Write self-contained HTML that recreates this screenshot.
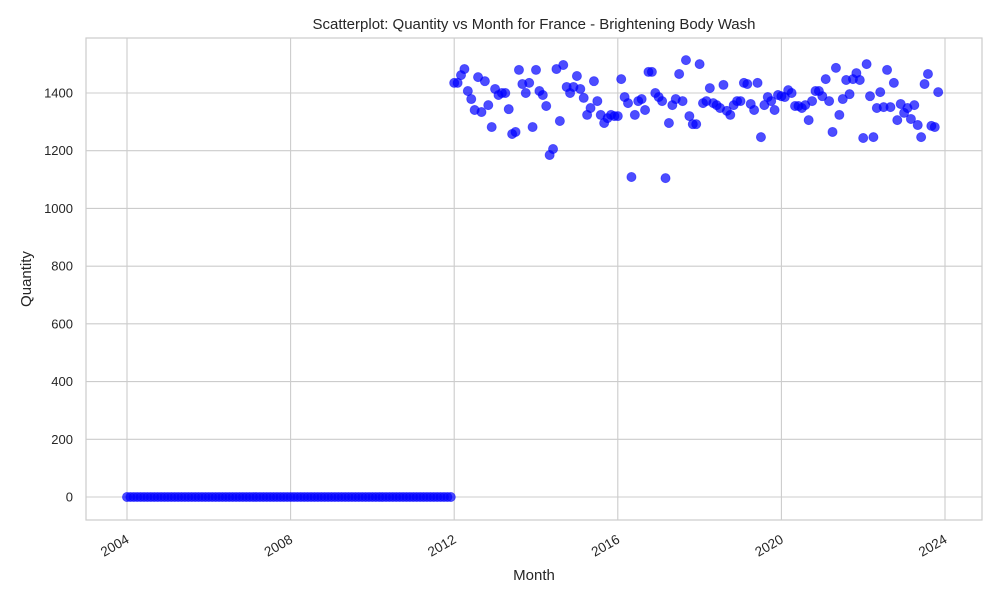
<!DOCTYPE html>
<html><head><meta charset="utf-8"><style>
body{margin:0;background:#fff;font-family:"Liberation Sans",sans-serif;}
svg text{font-family:"Liberation Sans",sans-serif;fill:#262626;}
</style></head><body>
<svg id="chart" width="1000" height="600">
<rect x="86" y="38" width="896" height="482" fill="#fff" stroke="#ccc" stroke-width="1.2"/>
<g id="grid"></g><g id="pts"></g><g id="ticks"></g>
<text x="534" y="29" text-anchor="middle" font-size="15">Scatterplot: Quantity vs Month for France - Brightening Body Wash</text>
<text x="534" y="580" text-anchor="middle" font-size="15">Month</text>
<text x="31" y="279" text-anchor="middle" font-size="15" transform="rotate(-90 31 279)">Quantity</text>
</svg>
<script>
const startYear = 2004;
const zeroMonths = 96;
const quantities = [1435,1435,1462,1483,1407,1379,1341,1455,1334,1441,1358,1282,1414,1393,1400,1400,1344,1258,1265,1480,1431,1400,1435,1282,1480,1407,1393,1355,1185,1206,1483,1303,1497,1421,1400,1421,1459,1414,1383,1324,1348,1441,1372,1324,1296,1313,1324,1320,1320,1448,1386,1365,1109,1324,1372,1379,1341,1473,1473,1400,1386,1372,1105,1296,1358,1379,1466,1372,1514,1320,1292,1292,1500,1365,1372,1417,1365,1358,1348,1428,1338,1324,1358,1372,1372,1435,1431,1362,1341,1435,1247,1358,1386,1372,1341,1393,1389,1386,1410,1400,1355,1355,1348,1358,1306,1372,1407,1407,1389,1448,1372,1265,1487,1324,1379,1445,1396,1448,1469,1445,1244,1500,1389,1247,1348,1403,1351,1480,1351,1435,1306,1362,1331,1348,1310,1358,1289,1247,1431,1466,1286,1282,1403];
const yTicks = [0,200,400,600,800,1000,1200,1400];
const xTickYears = [2004,2008,2012,2016,2020,2024];
const X = t => 127 + (t - 2004) * (945 - 127) / 20;
const Y = v => 497 - v * (497 - 93) / 1400;
const ns = "http://www.w3.org/2000/svg";
const grid = document.getElementById('grid'), ticks = document.getElementById('ticks'), pts = document.getElementById('pts');
function mk(tag, attrs, parent){const e=document.createElementNS(ns,tag);for(const k in attrs)e.setAttribute(k,attrs[k]);parent.appendChild(e);return e;}
yTicks.forEach(v=>{
  const l=mk('line',{x1:86,x2:982,y1:Y(v),y2:Y(v),stroke:'#ccc','stroke-width':1.1},grid);
  
  
  const t=mk('text',{x:73,y:Y(v)+4.5,'text-anchor':'end','font-size':13},ticks);
  t.textContent=v;
  
  
});
xTickYears.forEach(yr=>{
  const x=X(yr);
  const l=mk('line',{x1:x,x2:x,y1:38,y2:520,stroke:'#ccc','stroke-width':1.1},grid);
  
  
  const t=mk('text',{x:x+3,y:542,'text-anchor':'end','font-size':13.5,transform:`rotate(-30 ${x+3} 542)`},ticks);
  t.textContent=yr;
  
  
});
const all = new Array(zeroMonths).fill(0).concat(quantities);
all.forEach((v,i)=>{
  const t = startYear + i/12;
  const c=mk('circle',{cx:X(t),cy:Y(v),r:4.6,fill:'#0000ff','fill-opacity':0.7,stroke:'#0000ff','stroke-opacity':0.5,'stroke-width':0.8},pts);
  
  
});
</script>
</body></html>
